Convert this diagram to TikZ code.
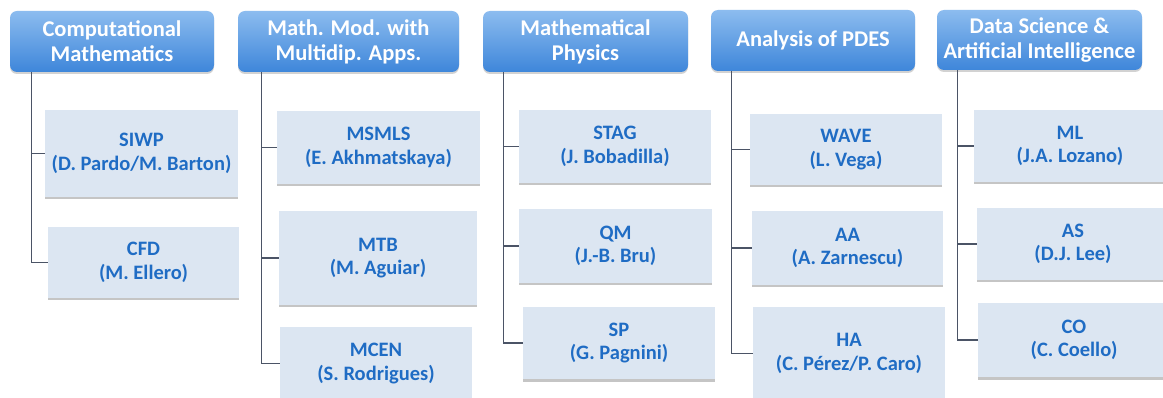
\documentclass[tikz,border=0pt]{standalone}
\usepackage{fontspec}
\setmainfont{Carlito}
\usetikzlibrary{shadows}

\definecolor{headtop}{HTML}{8CBCEF}
\definecolor{headbot}{HTML}{3E86DA}
\definecolor{unitfill}{HTML}{DCE6F2}
\definecolor{unittext}{HTML}{1F6CC4}
\definecolor{linkgray}{HTML}{4B5466}

\tikzset{
  area/.style={rounded corners=7pt, top color=headtop, bottom color=headbot,
    draw=none, text=white, align=center, inner sep=0pt,
    font=\bfseries\fontsize{22.5}{25}\selectfont,
    drop shadow={shadow xshift=0pt, shadow yshift=-2pt, fill=black!35, opacity=0.5}},
  unit/.style={fill=unitfill, draw=none, text=unittext, align=center, inner sep=0pt,
    font=\bfseries\fontsize{20.5}{23.5}\selectfont,
    drop shadow={shadow xshift=0pt, shadow yshift=-2.5pt, fill=black!45, opacity=0.5}},
  link/.style={draw=linkgray, line width=1.1pt}
}

\begin{document}
\begin{tikzpicture}[x=1pt,y=-1pt]

        \clip (0,0) rectangle (1163,398);
        \fill [white] (0,0) rectangle (1163,398);

        %Research areas
        \node [area, minimum width=204pt, minimum height=61pt] (cm) at (112,41.5) {Computational\\Mathematics};
        \node [area, minimum width=221pt, minimum height=61pt] (mm) at (348.5,41.5) {Math. Mod. with\\Multidip. Apps.};
        \node [area, minimum width=205pt, minimum height=61pt] (mp) at (585.5,41.5) {Mathematical\\Physics};
        \node [area, minimum width=204pt, minimum height=61pt] (ap) at (813,40.5) {Analysis of PDES};
        \node [area, minimum width=205pt, minimum height=60pt] (ds) at (1039.5,40) {Data Science \&\\Artificial Intelligence};

        %Computational mathematics
        \node [unit, minimum width=193pt, minimum height=87pt] (siwp) at (141.5,153.5) {SIWP\\(D. Pardo/M. Barton)};
        \node [unit, minimum width=191pt, minimum height=71pt] (cfd) at (143.5,262.5) {CFD\\(M. Ellero)};
        \draw [link] ([xshift=22pt]cm.south west) |- (siwp.west);
        \draw [link] ([xshift=22pt]cm.south west) |- (cfd.west);

        %Math. modelling
        \node [unit, minimum width=203pt, minimum height=73pt] (msmls) at (378.5,147.5) {MSMLS\\(E. Akhmatskaya)};
        \node [unit, minimum width=198pt, minimum height=94pt] (mtb) at (378,258) {MTB\\(M. Aguiar)};
        \node [unit, minimum width=192pt, minimum height=73pt] (mcen) at (376,363.5) {MCEN\\(S. Rodrigues)};
        \draw [link] ([xshift=24pt]mm.south west) |- (msmls.west);
        \draw [link] ([xshift=24pt]mm.south west) |- (mtb.west);
        \draw [link] ([xshift=24pt]mm.south west) |- (mcen.west);

        %Mathematical physics
        \node [unit, minimum width=192pt, minimum height=73pt] (stag) at (615,146.5) {STAG\\(J. Bobadilla)};
        \node [unit, minimum width=193pt, minimum height=74pt] (qm) at (615.5,246) {QM\\(J.-B. Bru)};
        \node [unit, minimum width=192pt, minimum height=72pt] (sp) at (619,343) {SP\\(G. Pagnini)};
        \draw [link] ([xshift=21pt]mp.south west) |- (stag.west);
        \draw [link] ([xshift=21pt]mp.south west) |- (qm.west);
        \draw [link] ([xshift=21pt]mp.south west) |- (sp.west);

        %Analysis of PDEs
        \node [unit, minimum width=192pt, minimum height=71pt] (wave) at (846,149.5) {WAVE\\(L. Vega)};
        \node [unit, minimum width=191pt, minimum height=74pt] (aa) at (847.5,248) {AA\\(A. Zarnescu)};
        \node [unit, minimum width=192pt, minimum height=93pt] (ha) at (849,353.5) {HA\\(C. Pérez/P. Caro)};
        \draw [link] ([xshift=21pt]ap.south west) |- (wave.west);
        \draw [link] ([xshift=21pt]ap.south west) |- (aa.west);
        \draw [link] ([xshift=21pt]ap.south west) |- (ha.west);

        %Data science
        \node [unit, minimum width=192pt, minimum height=72pt] (ml) at (1070,146) {ML\\(J.A. Lozano)};
        \node [unit, minimum width=192pt, minimum height=72pt] (as) at (1073,244) {AS\\(D.J. Lee)};
        \node [unit, minimum width=192pt, minimum height=74pt] (co) at (1074,340) {CO\\(C. Coello)};
        \draw [link] ([xshift=21pt]ds.south west) |- (ml.west);
        \draw [link] ([xshift=21pt]ds.south west) |- (as.west);
        \draw [link] ([xshift=21pt]ds.south west) |- (co.west);

\end{tikzpicture}
\end{document}
